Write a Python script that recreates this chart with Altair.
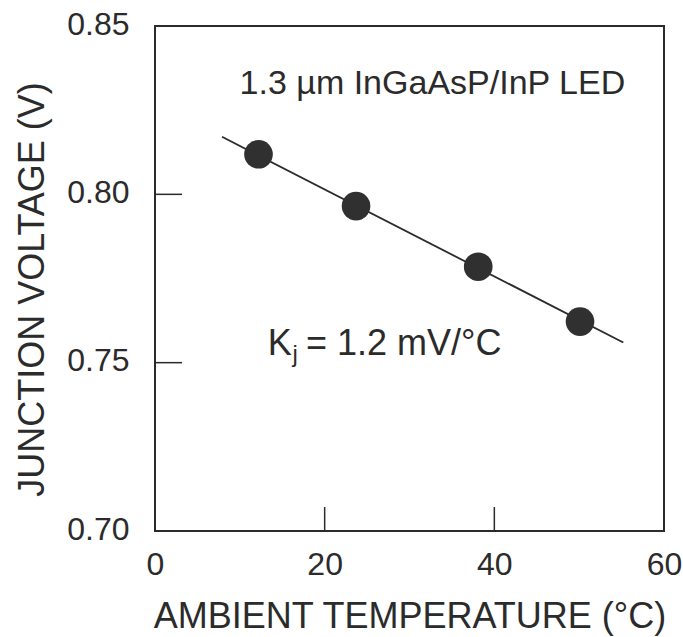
import altair as alt
import pandas as pd

# Measured data (ambient temperature in °C, junction voltage in V)
temp_c = [12.2, 23.7, 38.1, 50.1]
volt_v = [0.8119, 0.7965, 0.7785, 0.7622]

# Fitted line end points (Kj = 1.2 mV/°C)
fit_t = [7.9, 55.2]
fit_v = [0.8171, 0.7560]

# Axis ticks
x_ticks = [0, 20, 40, 60]
y_ticks = [0.70, 0.75, 0.80, 0.85]
x_inner_ticks = [20, 40]
y_inner_ticks = [0.75, 0.80]

# Annotations
label_device = "1.3 \u00b5m InGaAsP/InP LED"
label_k = "K"
label_j = "j"
label_coef = "= 1.2 mV/\u00b0C"

W, H = 509, 505
INK = "#2b2b2b"
FONT = "Liberation Sans"

pts = pd.DataFrame({"t": temp_c, "v": volt_v})
fit = pd.DataFrame({"t": fit_t, "v": fit_v})

xscale = alt.Scale(domain=[0, 60], nice=False, zero=False)
yscale = alt.Scale(domain=[0.70, 0.85], nice=False, zero=False)

xaxis = alt.Axis(
    values=x_ticks, format="d", title="AMBIENT TEMPERATURE (\u00b0C)",
    ticks=False, domain=False, grid=False, labelFlush=False, labelOverlap=False,
    labelFontSize=32, labelPadding=18, labelColor=INK, labelFont=FONT,
    titleFontSize=36, titleFontWeight="normal", titleColor=INK, titleFont=FONT,
    titleBaseline="alphabetic", titleY=96, titleX=W / 2,
)
yaxis = alt.Axis(
    values=y_ticks, format=".2f", title="JUNCTION VOLTAGE  (V)",
    ticks=False, domain=False, grid=False, labelFlush=False, labelOverlap=False,
    labelFontSize=32, labelPadding=26, labelColor=INK, labelFont=FONT, labelOffset=-2,
    titleFontSize=36, titleFontWeight="normal", titleColor=INK, titleFont=FONT,
    titleAngle=-90, titleAlign="center", titleBaseline="middle",
    titleX=-123, titleY=263,
)

line = alt.Chart(fit).mark_line(color=INK, strokeWidth=1.8).encode(
    x=alt.X("t:Q", scale=xscale, axis=xaxis),
    y=alt.Y("v:Q", scale=yscale, axis=yaxis),
)

dots = alt.Chart(pts).mark_circle(size=820, color="#303030", opacity=1).encode(
    x=alt.X("t:Q", scale=xscale),
    y=alt.Y("v:Q", scale=yscale),
)

ytk = alt.Chart(pd.DataFrame({"v": y_inner_ticks})).mark_rule(color=INK, strokeWidth=1.5).encode(
    y=alt.Y("v:Q", scale=yscale), x=alt.value(0), x2=alt.value(27)
)
xtk = alt.Chart(pd.DataFrame({"t": x_inner_ticks})).mark_rule(color=INK, strokeWidth=1.5).encode(
    x=alt.X("t:Q", scale=xscale), y=alt.value(H), y2=alt.value(H - 24)
)

ann = pd.DataFrame({
    "t": [32.7, 13.3, 16.2, 17.8],
    "v": [0.8298, 0.7523, 0.7503, 0.7523],
    "txt": [label_device, label_k, label_j, label_coef],
    "fs": [34, 36, 24, 36],
    "al": ["center", "left", "left", "left"],
})

texts = []
for i, row in ann.iterrows():
    texts.append(
        alt.Chart(ann.iloc[[i]]).mark_text(
            fontSize=int(row["fs"]), align=row["al"], baseline="alphabetic",
            color=INK, font=FONT,
        ).encode(
            x=alt.X("t:Q", scale=xscale),
            y=alt.Y("v:Q", scale=yscale),
            text="txt:N",
        )
    )

chart = alt.layer(line, dots, ytk, xtk, *texts).properties(
    width=W, height=H,
    autosize=alt.AutoSizeParams(type="none"),
    padding={"left": 155, "top": 26, "right": 19, "bottom": 106},
    background="white",
).configure_view(stroke=INK, strokeWidth=2)

chart.save("out.html", embed_options={"renderer": "svg", "actions": False})
